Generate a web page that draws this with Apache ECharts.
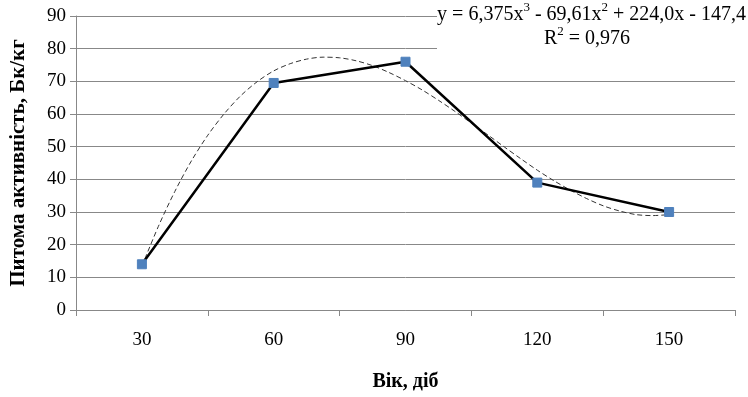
<!DOCTYPE html>
<html><head><meta charset="utf-8">
<script src="https://cdn.jsdelivr.net/npm/echarts@6/dist/echarts.min.js"></script>
<style>html,body{margin:0;padding:0;background:#fff}#c{width:748px;height:397px}</style>
</head><body><div id="c"></div>
<script>
const categories = ['30','60','90','120','150'];
const values = [14, 69.5, 76, 39, 30];
const yTicks = [0,10,20,30,40,50,60,70,80,90];
const trendX = [30,33.75,37.5,41.25,45,48.75,52.5,56.25,60,63.75,67.5,71.25,75,78.75,82.5,86.25,90,93.75,97.5,101.25,105,108.75,112.5,116.25,120,123.75,127.5,131.25,135,138.75,142.5,146.25,150];
const trendY = [13.4,25.6,36.3,45.6,53.5,60.1,65.6,69.9,73.2,75.4,76.8,77.4,77.2,76.3,74.8,72.7,70.2,67.4,64.2,60.8,57.2,53.6,49.9,46.3,42.8,39.6,36.7,34.1,31.9,30.3,29.2,28.9,29.2];
const eqParts = ['y = 6,375x', '3', ' - 69,61x', '2', ' + 224,0x - 147,4'];
const r2Parts = ['R', '2', ' = 0,976'];
const xTitle = 'Вік, діб';
const yTitle = 'Питома активність, Бк/кг';

const chart = echarts.init(document.getElementById('c'));
const font = '"Liberation Serif","Times New Roman",serif';
const rich = {
  n: {fontSize: 20, fontFamily: font, color: '#000', verticalAlign: 'bottom', lineHeight: 24},
  s: {fontSize: 13, fontFamily: font, color: '#000', verticalAlign: 'top', lineHeight: 24, padding: [0,0,8,0]}
};
const mk = parts => parts.map((p, i) => (i % 2 ? '{s|' : '{n|') + p + '}').join('');
chart.setOption({
  animation: false,
  textStyle: {fontFamily: font},
  grid: {left: 74, right: 13, top: 16, bottom: 84},
  xAxis: [{
    type: 'category', data: categories, boundaryGap: true,
    axisLine: {lineStyle: {color: '#888', width: 1}},
    axisTick: {show: true, length: 6, lineStyle: {color: '#888'}},
    axisLabel: {color: '#000', fontSize: 19, margin: 21, fontFamily: font},
    name: xTitle, nameLocation: 'middle', nameGap: 62,
    nameTextStyle: {color: '#000', fontSize: 20, fontWeight: 'bold', fontFamily: font}
  }, {
    type: 'value', min: 15, max: 165, show: false
  }],
  yAxis: {
    type: 'value', min: 0, max: 90, interval: 10,
    axisLine: {show: true, lineStyle: {color: '#888'}},
    axisTick: {show: true, length: 6, lineStyle: {color: '#888'}},
    axisLabel: {color: '#000', fontSize: 19, margin: 10, fontFamily: font,
      formatter: v => yTicks.includes(v) ? String(v) : ''},
    splitLine: {lineStyle: {color: '#888', width: 1}},
    name: yTitle, nameLocation: 'middle', nameGap: 47,
    nameTextStyle: {color: '#000', fontSize: 21, fontWeight: 'bold', fontFamily: font}
  },
  series: [{
    type: 'line', xAxisIndex: 1,
    data: trendX.map((x, i) => [x, trendY[i]]),
    smooth: 0.3, showSymbol: false, z: 2,
    lineStyle: {color: '#333', width: 1, type: [5, 3]}
  }, {
    type: 'line', data: values, z: 3,
    symbol: 'rect', symbolSize: 9,
    itemStyle: {color: '#4F81BD', borderColor: '#4F81BD'},
    lineStyle: {color: '#000', width: 2.5}
  }],
  graphic: [{
    type: 'rect', left: 437, top: 2, shape: {width: 311, height: 50},
    style: {fill: '#fff'}, z: 10
  }, {
    type: 'text', right: 2, top: 1, z: 11,
    style: {text: mk(eqParts), rich: rich}
  }, {
    type: 'text', left: 544, top: 25, z: 11,
    style: {text: mk(r2Parts), rich: rich}
  }]
});
</script></body></html>
